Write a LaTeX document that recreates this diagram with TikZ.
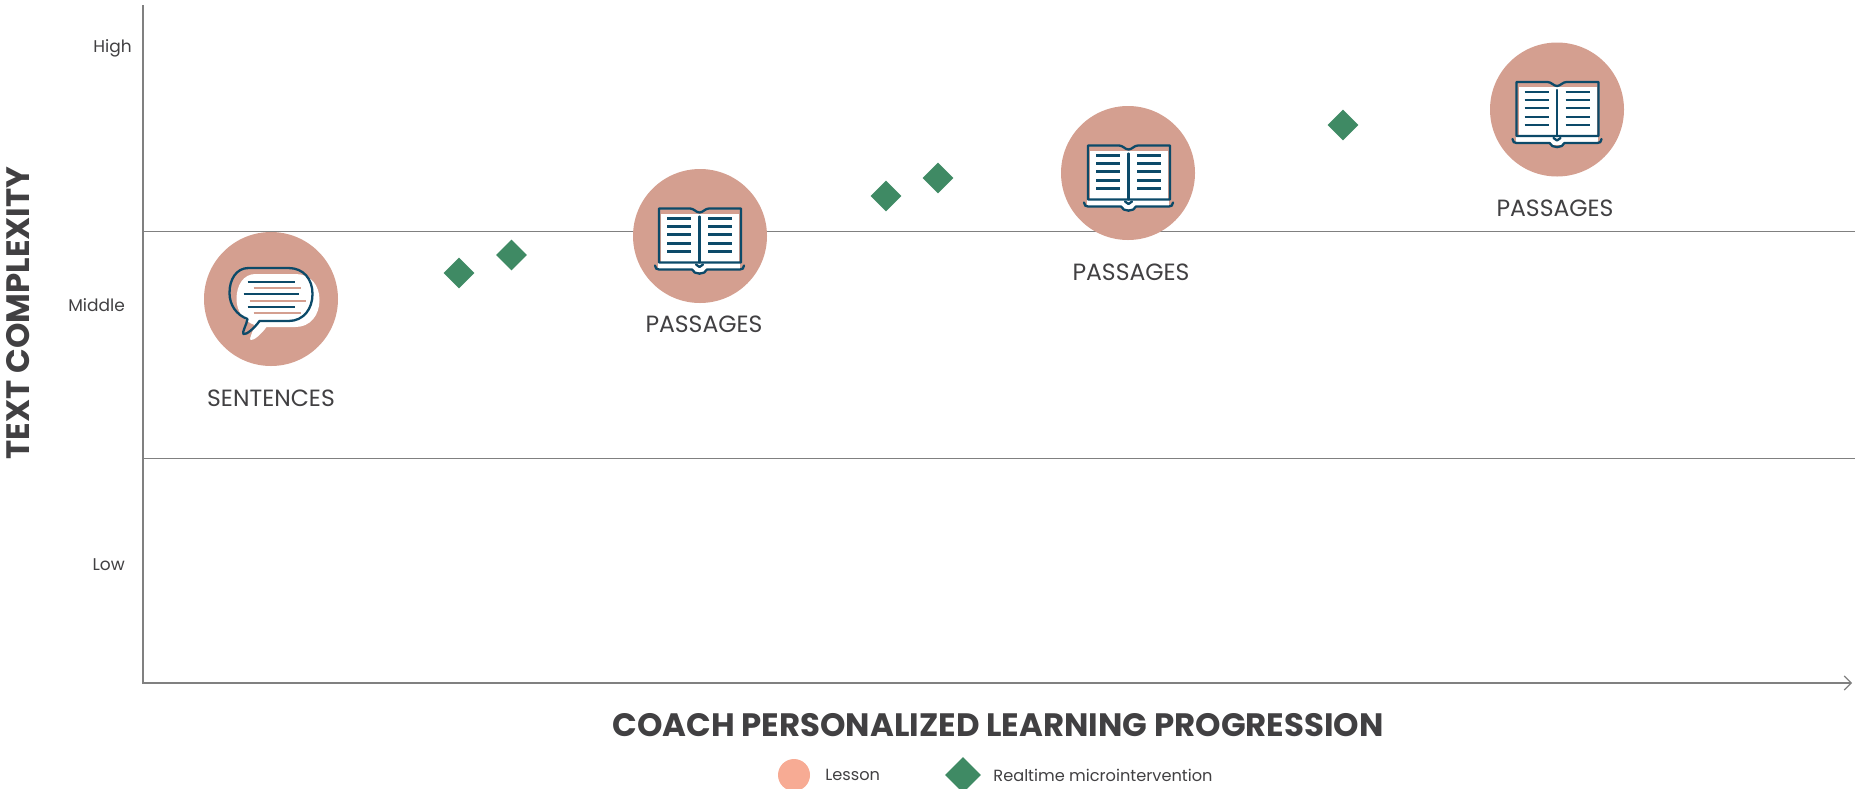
\documentclass[tikz,border=0pt]{standalone}
\usepackage{fontspec}
\setmainfont{Poppins}
\usetikzlibrary{positioning,arrows.meta,shapes.geometric}
\definecolor{rose}{HTML}{D49F90}
\definecolor{salmon}{HTML}{F7AB94}
\definecolor{leaf}{HTML}{3F8A64}
\definecolor{ink}{HTML}{0C4A69}
\definecolor{txt}{HTML}{414042}
\definecolor{rule}{HTML}{808080}
\tikzset{
	axisline/.style={draw=rule, line width=1.2pt},
	levelline/.style={draw=rule, line width=1pt},
	lesson/.style={circle, fill=rose, minimum size=134pt, inner sep=0pt},
	micro/.style={diamond, fill=leaf, minimum width=#1, minimum height=#1, inner sep=0pt},
	micro/.default=31pt,
	levellabel/.style={text=txt, font=\fontsize{17}{20}\selectfont, inner sep=0pt},
	keylabel/.style={text=txt, font=\fontsize{16.2}{20}\selectfont, inner sep=0pt},
	kindlabel/.style={text=txt, font=\fontsize{23.5}{28}\selectfont, inner sep=0pt},
	axistitle/.style={text=txt, font=\fontsize{32.4}{38}\bfseries\selectfont, inner sep=0pt},
	inkline/.style={draw=ink, line width=2.3pt, line cap=round, line join=round},
	paleline/.style={draw=rose, line width=2.3pt},
}
\newcommand\bookicon[2]{
	\begin{scope}[shift={(#1,#2)}]
		\fill[white] (-38,-23) rectangle (40,26);
		\fill[white] (-41,26) rectangle (41,32);
		\fill[white] (-6,32) rectangle (7,35);
		\draw[inkline] (-40,26) -- (-40,-28) -- (-9,-28) .. controls (-5,-28) and (-3,-24) .. (0.5,-24) .. controls (4,-24) and (6,-28) .. (10,-28) -- (42,-28) -- (42,26) -- cycle;
		\draw[inkline] (0.5,-20) -- (0.5,26);
		\draw[inkline] (-3,28) -- (0.5,30.5) -- (4,28);
		\draw[inkline] (-44,29) .. controls (-44,32) and (-42,33) .. (-40,33) -- (-7,33) .. controls (-5,38.5) and (6,38.5) .. (8,33) -- (41,33) .. controls (43,33) and (45,32) .. (45,29);
		\foreach \y in {-18,-10,-2,7,15} {
			\draw[inkline, line cap=butt] (-32,\y) -- (-8,\y);
			\draw[inkline, line cap=butt] (9,\y) -- (33,\y);
		}
	\end{scope}
}
\newcommand\speechicon[2]{
	\begin{scope}[shift={(#1,#2)}]
		% white shadow of the bubble
		\fill[white, xshift=7pt, yshift=-6pt] (-22,-31) -- (18,-31) .. controls (33,-31) and (42,-20) .. (42,-5) .. controls (42,10) and (33,22) .. (18,22) -- (-11,22) .. controls (-16,29) and (-24,36) .. (-27,35) .. controls (-29,34) and (-24,26) .. (-23,20) .. controls (-34,16) and (-41,6) .. (-41,-6) .. controls (-41,-20) and (-34,-31) .. (-22,-31) -- cycle;
		\draw[inkline] (-22,-31) -- (18,-31) .. controls (33,-31) and (42,-20) .. (42,-5) .. controls (42,10) and (33,22) .. (18,22) -- (-11,22) .. controls (-16,29) and (-24,36) .. (-27,35) .. controls (-29,34) and (-24,26) .. (-23,20) .. controls (-34,16) and (-41,6) .. (-41,-6) .. controls (-41,-20) and (-34,-31) .. (-22,-31) -- cycle;
		\draw[inkline, line cap=butt] (-23,-17.3) -- (24,-17.3);
		\draw[paleline] (-17,-10.7) -- (30,-10.7);
		\draw[inkline, line cap=butt] (-27,-4.7) -- (28,-4.7);
		\draw[paleline] (-21,1.7) -- (35,1.7);
		\draw[inkline, line cap=butt] (-23,8) -- (24,8);
		\draw[paleline] (-17,14.3) -- (30,14.3);
	\end{scope}
}

\begin{document}
\begin{tikzpicture}[x=1pt, y=-1pt]
	\useasboundingbox (0,0) rectangle (1855,788);

	% Axes and level rules
	\coordinate (top) at (143,5);
	\coordinate (origin) at (143,683);
	\coordinate (tip) at (1852,683);
	\coordinate (midhi) at (143,231);
	\coordinate (midhiend) at (1855,231);
	\coordinate (midlo) at (143,458);
	\coordinate (midloend) at (1855,458);
	\draw[levelline] (midhi) -- (midhiend);
	\draw[levelline] (midlo) -- (midloend);
	\draw[axisline, -{Straight Barb[length=7pt,width=14pt]}] (top) -- (origin) -- (tip);

	% Lessons
	\node[lesson] (lessonA) at (271,299) {};
	\node[lesson] (lessonB) at (700,236) {};
	\node[lesson] (lessonC) at (1128,173) {};
	\node[lesson] (lessonD) at (1557,109.5) {};
	\speechicon{270.5}{299}
	\bookicon{699}{236.5}
	\bookicon{1128}{173.5}
	\bookicon{1556.5}{110}
	\node[kindlabel] (labelA) at (271,398) {SENTENCES};
	\node[kindlabel] (labelB) at (704,324) {PASSAGES};
	\node[kindlabel] (labelC) at (1131,272) {PASSAGES};
	\node[kindlabel] (labelD) at (1555,208) {PASSAGES};

	% Microinterventions
	\node[micro] (microA) at (459,273) {};
	\node[micro] (microB) at (511.5,255) {};
	\node[micro] (microC) at (886,196) {};
	\node[micro] (microD) at (938,178) {};
	\node[micro] (microE) at (1343,125) {};

	% Level names and titles
	\node[levellabel, anchor=east] (high) at (132,48) {High};
	\node[levellabel, anchor=east] (middle) at (125,305) {Middle};
	\node[levellabel, anchor=east] (low) at (125,565) {Low};
	\node[axistitle, rotate=90] (ytitle) at (18,313) {TEXT COMPLEXITY};
	\node[axistitle] (xtitle) at (998,725) {COACH PERSONALIZED LEARNING PROGRESSION};

	% Legend
	\node[circle, fill=salmon, minimum size=32pt, inner sep=0pt] (keylesson) at (794,775) {};
	\node[keylabel, right=15pt of keylesson] (keylessontext) {Lesson};
	\node[micro=36pt] (keymicro) at (963,775) {};
	\node[keylabel, right=12pt of keymicro] (keymicrotext) {Realtime microintervention};
\end{tikzpicture}
\end{document}
